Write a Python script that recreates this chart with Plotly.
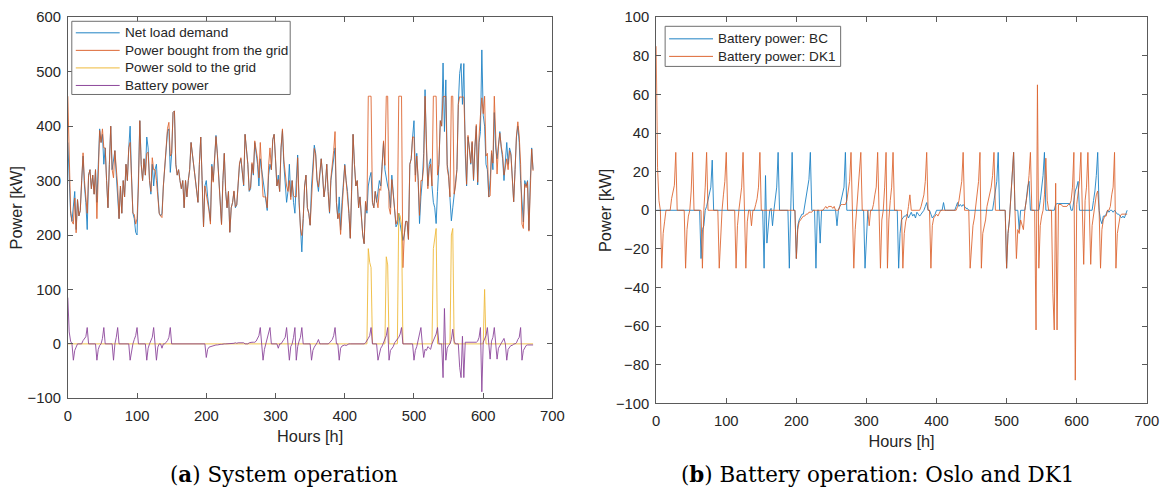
import plotly.graph_objects as go

# ---------------- data (2-hour resolution) ----------------
hours = list(range(0, 673, 2))

net_load = [
    370, 300, 240, 225, 250, 280, 210, 265, 235, 245,
    300, 345, 290, 260, 210, 310, 320, 285, 310, 275,
    320, 260, 330, 395, 370, 385, 330, 360, 300, 250,
    330, 400, 320, 335, 355, 310, 260, 230, 290, 240,
    300, 270, 330, 300, 360, 400, 310, 240, 230, 205,
    200, 290, 410, 330, 300, 340, 310, 380, 360, 300,
    275, 330, 290, 320, 330, 280, 240, 235, 240, 290,
    320, 360, 390, 395, 315, 350, 425, 428, 330, 310,
    320, 300, 285, 300, 250, 300, 270, 300, 320, 370,
    350, 320, 300, 285, 260, 330, 380, 300, 215, 290,
    300, 270, 250, 225, 330, 300, 340, 383, 350, 300,
    245, 220, 300, 350, 280, 250, 280, 205, 250, 260,
    280, 250, 255, 300, 330, 340, 320, 290, 385, 360,
    330, 280, 285, 330, 310, 370, 350, 330, 290, 340,
    320, 300, 280, 270, 245, 310, 330, 320, 375, 385,
    340, 290, 310, 280, 360, 392, 330, 300, 260, 280,
    330, 270, 300, 260, 240, 300, 347, 260, 200, 169,
    230, 290, 310, 250, 240, 218, 290, 330, 365, 350,
    300, 280, 310, 340, 310, 270, 290, 330, 280, 240,
    300, 320, 340, 360, 260, 230, 270, 209, 260, 290,
    330, 300, 280, 240, 194, 280, 385, 330, 290, 300,
    250, 270, 230, 200, 184, 260, 240, 290, 305, 315,
    260, 250, 280, 260, 280, 300, 290, 330, 370, 320,
    300, 290, 280, 250, 310, 280, 250, 215, 220, 240,
    220, 200, 190, 200, 225, 225, 192, 330, 340, 380,
    410, 310, 350, 300, 221, 270, 300, 350, 467, 360,
    290, 330, 340, 290, 260, 250, 221, 280, 330, 410,
    400, 516, 390, 485, 330, 310, 270, 226, 250, 270,
    290, 320, 440, 497, 515, 440, 515, 350, 290, 380,
    360, 330, 370, 300, 360, 400, 292, 370, 390, 540,
    420, 400, 330, 320, 270, 300, 350, 320, 425, 360,
    340, 370, 390, 360, 340, 300, 330, 370, 330, 360,
    350, 300, 261, 320, 380, 400, 370, 300, 250, 224,
    300, 290, 300, 209, 300, 360, 320,
]

power_bought = [
    455, 322, 245, 225, 220, 268, 204, 265, 235, 245,
    300, 351, 300, 273, 240, 310, 320, 285, 310, 275,
    320, 230, 320, 392, 370, 395, 360, 360, 300, 250,
    330, 400, 320, 305, 355, 322, 290, 230, 290, 240,
    300, 270, 330, 300, 360, 370, 300, 240, 238, 220,
    230, 290, 410, 330, 300, 340, 310, 350, 352, 300,
    280, 342, 320, 320, 300, 274, 240, 235, 232, 290,
    320, 363, 396, 407, 345, 350, 425, 428, 330, 310,
    320, 300, 285, 300, 250, 300, 270, 300, 320, 370,
    350, 320, 300, 285, 260, 330, 380, 300, 215, 290,
    275, 260, 244, 220, 326, 297, 337, 381, 348, 299,
    244, 219, 300, 350, 280, 250, 280, 205, 250, 260,
    281, 252, 256, 302, 332, 342, 321, 292, 385, 360,
    330, 282, 288, 333, 313, 373, 355, 340, 305, 370,
    320, 270, 270, 270, 250, 327, 360, 320, 375, 385,
    340, 290, 302, 280, 360, 395, 338, 312, 290, 280,
    300, 265, 300, 272, 270, 270, 342, 265, 212, 199,
    230, 290, 310, 250, 240, 218, 260, 318, 359, 347,
    302, 288, 310, 340, 310, 270, 290, 330, 280, 242,
    305, 328, 355, 390, 260, 230, 240, 201, 256, 287,
    328, 297, 279, 240, 194, 280, 385, 330, 290, 300,
    250, 270, 230, 200, 184, 262, 245, 455, 455, 455,
    260, 250, 280, 260, 250, 285, 282, 326, 373, 328,
    455, 455, 250, 238, 302, 275, 252, 220, 228, 455,
    455, 455, 140, 200, 225, 225, 192, 330, 340, 380,
    380, 298, 345, 305, 236, 300, 300, 325, 455, 348,
    285, 322, 330, 290, 455, 455, 455, 310, 330, 410,
    400, 454, 455, 455, 322, 307, 270, 455, 455, 275,
    290, 320, 440, 454, 453, 454, 453, 353, 293, 383,
    362, 332, 372, 302, 363, 403, 297, 382, 420, 452,
    423, 455, 345, 350, 270, 272, 355, 332, 455, 360,
    312, 362, 387, 363, 348, 310, 330, 340, 320, 355,
    347, 297, 261, 320, 382, 408, 382, 330, 220, 212,
    294, 287, 298, 207, 298, 358, 318,
]

power_sold = [
    0, 0, 0, 0, 0, 0, 0, 0, 0, 0,
    0, 0, 0, 0, 0, 0, 0, 0, 0, 0,
    0, 0, 0, 0, 0, 0, 0, 0, 0, 0,
    0, 0, 0, 0, 0, 0, 0, 0, 0, 0,
    0, 0, 0, 0, 0, 0, 0, 0, 0, 0,
    0, 0, 0, 0, 0, 0, 0, 0, 0, 0,
    0, 0, 0, 0, 0, 0, 0, 0, 0, 0,
    0, 0, 0, 0, 0, 0, 0, 0, 0, 0,
    0, 0, 0, 0, 0, 0, 0, 0, 0, 0,
    0, 0, 0, 0, 0, 0, 0, 0, 0, 0,
    0, 0, 0, 0, 0, 0, 0, 0, 0, 0,
    0, 0, 0, 0, 0, 0, 0, 0, 0, 0,
    0, 0, 0, 0, 0, 0, 0, 0, 0, 0,
    0, 0, 0, 0, 0, 0, 0, 0, 0, 0,
    0, 0, 0, 0, 0, 0, 0, 0, 0, 0,
    0, 0, 0, 0, 0, 0, 0, 0, 0, 0,
    0, 0, 0, 0, 0, 0, 0, 0, 0, 0,
    0, 0, 0, 0, 0, 0, 0, 0, 0, 0,
    0, 0, 0, 0, 0, 0, 0, 0, 0, 0,
    0, 0, 0, 0, 0, 0, 0, 0, 0, 0,
    0, 0, 0, 0, 0, 0, 0, 0, 0, 0,
    0, 0, 0, 0, 0, 0, 0, 175, 150, 140,
    0, 0, 0, 0, 0, 0, 0, 0, 0, 0,
    160, 145, 0, 0, 0, 0, 0, 0, 0, 240,
    235, 220, 0, 0, 0, 0, 0, 0, 0, 0,
    0, 0, 0, 0, 0, 0, 0, 0, 0, 0,
    0, 0, 0, 0, 175, 200, 212, 0, 0, 0,
    0, 0, 0, 0, 0, 0, 0, 200, 212, 0,
    0, 0, 0, 0, 0, 0, 0, 0, 0, 0,
    0, 0, 0, 0, 0, 0, 0, 0, 0, 0,
    0, 100, 0, 0, 0, 0, 0, 0, 0, 0,
    0, 0, 0, 0, 0, 0, 0, 0, 0, 0,
    0, 0, 0, 0, 0, 0, 0, 0, 0, 0,
    0, 0, 0, 0, 0, 0, 0,
]

# DK1 battery power (also the "Battery power" of panel a)
battery_dk1 = [
    85, 22, 5, 0, -30, -12, -6, 0, 0, 0,
    0, 6, 10, 13, 30, 0, 0, 0, 0, 0,
    0, -30, -10, -3, 0, 10, 30, 0, 0, 0,
    0, 0, 0, -30, 0, 12, 30, 0, 0, 0,
    0, 0, 0, 0, 0, -30, -10, 0, 8, 15,
    30, 0, 0, 0, 0, 0, 0, -30, -8, 0,
    5, 12, 30, 0, -30, -6, 0, 0, -8, 0,
    0, 3, 6, 12, 30, 0, 0, 0, 0, 0,
    0, 0, 0, 0, 0, 0, 0, 0, 0, 0,
    0, 0, 0, 0, 0, 0, 0, 0, 0, 0,
    -25, -10, -6, -5, -4, -3, -3, -2, -2, -1,
    -1, -1, 0, 0, 0, 0, 0, 0, 0, 0,
    1, 2, 1, 2, 2, 2, 1, 2, 0, 0,
    0, 2, 3, 3, 3, 3, 5, 10, 15, 30,
    0, -30, -10, 0, 5, 17, 30, 0, 0, 0,
    0, 0, -8, 0, 0, 3, 8, 12, 30, 0,
    -30, -5, 0, 12, 30, -30, -5, 5, 12, 30,
    0, 0, 0, 0, 0, 0, -30, -12, -6, -3,
    2, 8, 0, 0, 0, 0, 0, 0, 0, 2,
    5, 8, 15, 30, 0, 0, -30, -8, -4, -3,
    -2, -3, -1, 0, 0, 0, 0, 0, 0, 0,
    0, 0, 0, 0, 0, 2, 5, 10, 15, 30,
    0, 0, 0, 0, -30, -15, -8, -4, 3, 8,
    15, 30, -30, -12, -8, -5, 2, 5, 8, 12,
    18, 30, 0, 0, 0, 0, 0, 0, 0, 0,
    -30, -12, -5, 5, 15, 30, 0, -25, -10, -12,
    -5, -8, -10, 0, 5, 10, 18, 30, 0, 0,
    0, -62, 65, -30, -8, -3, 0, 8, 27, 5,
    0, 0, 0, -43, -62, 14, -62, 3, 3, 3,
    2, 2, 2, 2, 3, 3, 5, 12, 30, -88,
    3, 8, 15, 30, 0, -28, 5, 12, 30, 0,
    -28, -8, -3, 3, 8, 10, 0, -30, -10, -5,
    -3, -3, 0, 0, 2, 8, 12, 30, -30, -12,
    -6, -3, -2, -2, -2, -2, -2,
]

battery_bc = [
    0, 0, 0, 0, 0, 0, 0, 0, 0, 0,
    0, 0, 0, 0, 0, 0, 0, 0, 0, 0,
    0, 0, 0, 0, 0, 0, 0, 0, 0, 0,
    0, 0, -25, -10, -8, 0, 2, 5, 8, 12,
    26, 0, 0, 0, 0, 0, 0, 0, 0, 0,
    0, 0, 0, 0, 0, 0, 0, 0, 0, 0,
    0, 0, 0, 0, 0, 0, 0, 0, 0, 0,
    0, 0, 0, 0, 0, 0, 0, -30, 18, -17,
    -8, 0, 1, -8, 0, 5, 12, 30, 0, 0,
    0, 0, 0, 0, 0, -30, 0, 30, 0, 0,
    -25, -8, -5, -3, -2, -2, 3, 8, 12, 16,
    30, 0, 0, 0, -30, 0, 0, -17, 0, 0,
    0, 0, 0, 0, 0, 0, 0, 0, 0, -8,
    0, 2, 5, 8, 12, 30, 0, 0, 0, 0,
    0, 0, 0, 0, 0, 0, 0, 0, 0, -30,
    -10, 0, 0, 0, 0, 0, 0, 0, 0, 0,
    0, 0, 0, 0, 0, 0, 0, 0, 0, 0,
    0, 0, 0, -30, -12, -5, -4, -3, -3, -2,
    -4, -2, -1, -3, -2, -4, -1, -2, -3, -2,
    -1, 0, 2, 4, 0, 0, -2, -4, -3, -2,
    0, 0, 0, 0, 0, 4, 0, 0, 0, 0,
    0, 0, 0, 0, 2, 4, 2, 3, 2, 3,
    2, 1, 1, 0, 0, 0, 0, 0, 0, 0,
    0, 0, 0, 0, 0, 0, 0, 0, 0, 0,
    0, 5, 10, 15, 30, 0, 0, 0, 0, 0,
    -30, -12, -5, 5, 15, 30, 0, 0, 0, -10,
    0, 0, 0, 0, 5, 12, 15, 0, 0, 0,
    0, 0, 0, 0, 5, 12, 18, 30, 0, 0,
    0, 0, 0, 0, 0, 3, 3.5, 3.5, 3.5, 3.5,
    3.5, 3.5, 3.5, 3.5, 3.5, 3.5, 0, 0, 5, 10,
    12, 15, 0, 0, 0, 0, 0, 0, 0, 0,
    0, 0, 5, 10, 18, 30, 0, -5, -7, -3,
    -3, -2, 0, -1, 0, 0, -1, 0, -1, -2,
    -2, -3, -4, -3, -4, -2, 0,
]

# ---------------- styling ----------------
W, H = 1161, 494
BLUE, ORANGE, YELLOW, PURPLE = "#0072BD", "#D95319", "#EDB120", "#7E2F8E"
SANS = "Liberation Sans, Arial, sans-serif"
AX = "#5a5a5a"
TXT = "#262626"
LW = 0.9
OP = 0.88

# the photographed page maps figure pixels to picture pixels as
# px = 2 + 0.989 * fig_x,  py = 8.75 + 0.965 * fig_y ; place items by target picture pixel
SX, OX, SY, OY = 0.989, 2.0, 0.965, 8.75
FS = 1.02  # small font compensation for that scaling


def fx(p):
    return ((p - OX) / SX) / W


def fy(p):
    return 1 - ((p - OY) / SY) / H


fig = go.Figure()

left = [
    ("Net load demand", net_load, BLUE),
    ("Power bought from the grid", power_bought, ORANGE),
    ("Power sold to the grid", power_sold, YELLOW),
    ("Battery power", battery_dk1, PURPLE),
]
for name, vals, col in left:
    fig.add_trace(go.Scatter(x=hours, y=vals, mode="lines", name=name,
                             line=dict(color=col, width=LW), opacity=OP,
                             xaxis="x", yaxis="y", showlegend=False))

right = [
    ("Battery power: BC", battery_bc, BLUE),
    ("Battery power: DK1", battery_dk1, ORANGE),
]
for name, vals, col in right:
    fig.add_trace(go.Scatter(x=hours, y=vals, mode="lines", name=name,
                             line=dict(color=col, width=LW), opacity=OP,
                             xaxis="x2", yaxis="y2", showlegend=False))

axis_common = dict(
    showline=True, linecolor=AX, linewidth=1, mirror="ticks",
    ticks="inside", ticklen=5, tickcolor=AX, tickwidth=1,
    showgrid=False, zeroline=False,
    tickfont=dict(family=SANS, size=14.5 * FS, color=TXT),
)
title_font = dict(family=SANS, size=16 * FS, color=TXT)

fig.update_layout(
    width=W, height=H,
    margin=dict(l=0, r=0, t=0, b=0),
    paper_bgcolor="white", plot_bgcolor="white",
    xaxis=dict(domain=[fx(66), fx(552)], range=[0, 700], dtick=100, anchor="y",
               title=dict(text="Hours [h]", font=title_font, standoff=7),
               ticklabelstandoff=4, **axis_common),
    yaxis=dict(domain=[fy(398), fy(18)], range=[-100, 600], dtick=100, anchor="x",
               title=dict(text="Power [kW]", font=title_font, standoff=0),
               ticklabelstandoff=3, **axis_common),
    xaxis2=dict(domain=[fx(656), fx(1148)], range=[0, 700], dtick=100, anchor="y2",
                title=dict(text="Hours [h]", font=title_font, standoff=7),
                ticklabelstandoff=4, **axis_common),
    yaxis2=dict(domain=[fy(403), fy(18)], range=[-100, 100], dtick=20, anchor="x2",
                title=dict(text="Power [kW]", font=title_font, standoff=0),
                ticklabelstandoff=3, **axis_common),
    showlegend=False,
)

# ---------------- legends (MATLAB-style boxes) ----------------
LEG_FONT = dict(family=SANS, size=13.3 * FS, color=TXT)


def add_legend(box, sample_x, rows):
    x0, y0, x1, y1 = box
    fig.add_shape(type="rect", xref="paper", yref="paper",
                  x0=fx(x0), x1=fx(x1), y0=fy(y1), y1=fy(y0),
                  line=dict(color="#6e6e6e", width=1), fillcolor="white", layer="above")
    for (label, col, yy) in rows:
        fig.add_shape(type="line", xref="paper", yref="paper",
                      x0=fx(sample_x[0]), x1=fx(sample_x[1]), y0=fy(yy), y1=fy(yy),
                      line=dict(color=col, width=1), opacity=OP, layer="above")
        fig.add_annotation(text=label, x=fx(sample_x[1] + 3), y=fy(yy),
                           xref="paper", yref="paper", showarrow=False,
                           xanchor="left", yanchor="middle", font=LEG_FONT)


add_legend((70, 22, 289, 95), (74, 118), [
    ("Net load demand", BLUE, 33.5),
    ("Power bought from the grid", ORANGE, 51),
    ("Power sold to the grid", YELLOW, 68.5),
    ("Battery power", PURPLE, 86),
])
add_legend((665, 27, 841, 67), (669, 713), [
    ("Battery power: BC", BLUE, 39.5),
    ("Battery power: DK1", ORANGE, 57),
])

# ---------------- captions ----------------
SERIF = "DejaVu Serif, serif"
fig.add_annotation(text="(<b>a</b>) System operation", x=fx(283), y=0,
                   xref="paper", yref="paper", showarrow=False,
                   xanchor="center", yanchor="bottom", yshift=-3,
                   font=dict(family=SERIF, size=21 * FS, color="black"))
fig.add_annotation(text="(<b>b</b>) Battery operation: Oslo and DK1", x=fx(878), y=0,
                   xref="paper", yref="paper", showarrow=False,
                   xanchor="center", yanchor="bottom", yshift=-3,
                   font=dict(family=SERIF, size=21 * FS, color="black"))

fig.write_html("out.html")
